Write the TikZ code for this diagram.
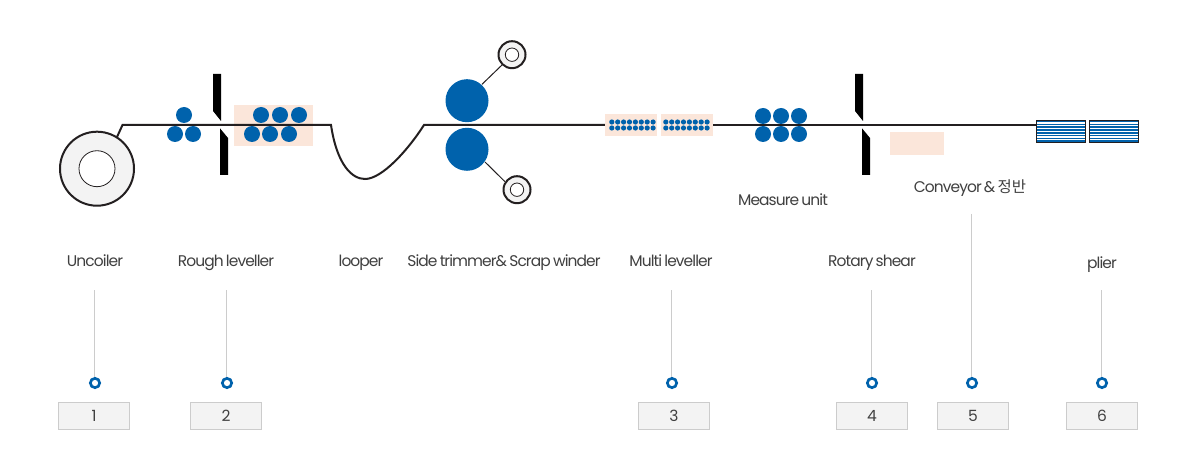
\documentclass[tikz,border=0pt]{standalone}
\usepackage{fontspec}
\usetikzlibrary{positioning}
\setmainfont[LetterSpace=-6,WordSpace=0.7]{Poppins}
\newfontfamily\cjk{Noto Sans CJK KR}
\definecolor{RollBlue}{RGB}{0,98,172}
\definecolor{StripBlack}{RGB}{35,31,32}
\definecolor{PeachBg}{RGB}{251,230,218}
\definecolor{CoilGray}{RGB}{243,243,243}
\definecolor{LeadGray}{RGB}{204,204,204}
\definecolor{TextGray}{RGB}{64,64,64}
\tikzset{
  strip/.style={StripBlack, line width=1.5pt},
  arm/.style={StripBlack, line width=0.75pt},
  coilring/.style={draw=StripBlack, fill=CoilGray, line width=1.5pt},
  coilhole/.style={draw=StripBlack, fill=white, line width=0.6pt},
  steplabel/.style={text=TextGray, font=\fontsize{11.6pt}{13pt}\selectfont, inner sep=0pt, anchor=base},
  leader/.style={LeadGray, line width=0.75pt},
  markring/.style={circle, draw=RollBlue, fill=white, line width=2pt, minimum size=7pt, inner sep=0pt},
  numbox/.style={rectangle, draw=LeadGray, fill=CoilGray, line width=0.75pt, minimum width=53.25pt, minimum height=20.25pt, inner sep=0pt, text=TextGray, font=\fontsize{11.6pt}{13pt}\selectfont},
}
\begin{document}
\begin{tikzpicture}[x=0.75pt, y=-0.75pt]
  \useasboundingbox (0,0) rectangle (1198,470);

  % --- Peach backgrounds ---
  \fill[PeachBg] (234,105) rectangle (313,146);
  \fill[PeachBg] (890,132) rectangle (944,155);

  % --- Uncoiler ---
  \draw[coilring] (97,168.7) circle (37);
  \draw[coilhole] (97,168.7) circle (18);

  % --- Strip ---
  \draw[strip] (117,137) -- (122.5,125) -- (331,125)
    .. controls (337,165) and (352,179) .. (365,179)
    .. controls (382,179) and (408,150) .. (424,125) -- (605,125);
  \draw[strip] (713,125) -- (1036,125);

  % --- Rollers: rough leveller, measure unit ---
  \foreach \x/\y in {184/115,175/134,193/134,261/115,280/115,299/115,252/134,270/134,289/134,
                     763/116,781/116,799/116,763/134,781/134,799/134} {
    \fill[RollBlue] (\x,\y) circle (8);
  }

  % --- Shear blades ---
  \foreach \dx in {0,642} {
    \fill[black] (213+\dx,74) -- (221+\dx,74) -- (221+\dx,121) -- (213+\dx,111) -- cycle;
    \fill[black] (220+\dx,128.3) -- (228+\dx,138) -- (228+\dx,175) -- (220+\dx,175) -- cycle;
  }

  % --- Side trimmer & scrap winder ---
  \draw[arm] (482,84.3) -- (502,65);
  \draw[arm] (485,162) -- (505,181.7);
  \fill[RollBlue] (467,100.7) circle (21.5);
  \fill[RollBlue] (467,149.3) circle (21.5);
  \draw[coilring] (512,54.7) circle (13.5);
  \draw[coilhole] (512,54.7) circle (6.7);
  \draw[coilring] (517,189.7) circle (13.5);
  \draw[coilhole] (517,189.7) circle (6.7);

  % --- Multi leveller ---
  \foreach \xa/\xd in {605/611.8,661/665.8} {
    \fill[PeachBg] (\xa,114) rectangle +(52,22);
    \foreach \i in {0,...,7} {
      \fill[RollBlue] (\xd+\i*5.9,122) circle (2.6);
      \fill[RollBlue] (\xd+\i*5.9,128) circle (2.6);
    }
  }

  % --- Plate stacks ---
  \foreach \xa in {1036.3,1089.3} {
    \fill[RollBlue] (\xa,120.3) rectangle +(49.4,22.4);
    \foreach \i in {1,...,7} {
      \draw[white, line width=0.9pt] (\xa,120.3+\i*2.8) -- +(49.4,0);
    }
    \draw[StripBlack, line width=0.75pt] (\xa,120.3) rectangle +(49.4,22.4);
  }

  % --- Labels ---
  \node[steplabel] (uncoiler) at (95,266) {Uncoiler};
  \node[steplabel] (rough) at (226,266) {Rough leveller};
  \node[steplabel] (looper) at (361,266) {looper};
  \node[steplabel] (trimmer) at (504,266) {Side trimmer\& Scrap winder};
  \node[steplabel] (multi) at (671,266) {Multi leveller};
  \node[steplabel] (measure) at (783,206) {Measure unit};
  \node[steplabel] (rotary) at (872,266) {Rotary shear};
  \node[steplabel] (conveyor) at (970,193) {Conveyor \& {\cjk 정반}};
  \node[steplabel] (plier) at (1102,268) {plier};

  % --- Leaders, marks, number boxes ---
  \foreach \n/\xr/\xb/\ytop in {1/95/94/290,2/227/226/290,3/672/674/290,4/872/872/290,5/972/973/214,6/1102/1102/290} {
    \node[markring] (mark\n) at (\xr,383) {};
    \node[numbox] (num\n) at (\xb,416) {\n};
    \coordinate (top\n) at (\xr-0.3,\ytop);
    \draw[leader] (top\n) -- (top\n |- mark\n.north);
  }

\end{tikzpicture}
\end{document}
